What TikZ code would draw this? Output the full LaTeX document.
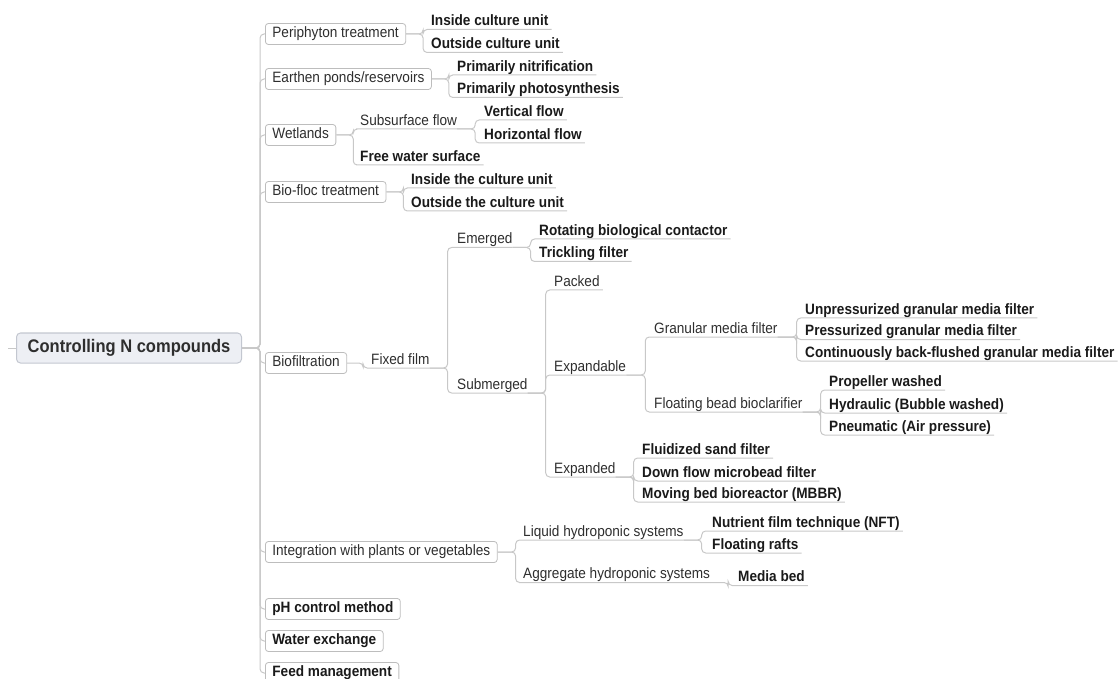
\documentclass[tikz,border=0pt]{standalone}
\usepackage{fontspec}
\setmainfont{Liberation Sans}[FakeStretch=0.907]
\usepackage{tikz}
\definecolor{linegray}{HTML}{C8C8C8}
\definecolor{boxgray}{HTML}{BDBDBD}
\definecolor{rootfill}{HTML}{EDEFF4}
\definecolor{rootline}{HTML}{C3C7D0}
\definecolor{txt}{HTML}{2E2E2E}
\definecolor{txtb}{HTML}{1A1A1A}

\tikzset{
  link/.style={draw=linegray, line width=1pt, rounded corners=4pt},
  rootbox/.style={draw=rootline, fill=rootfill, rounded corners=4pt, line width=1pt,
    anchor=west, inner xsep=11.2pt, inner ysep=0pt, minimum height=30pt,
    text=txt, font=\fontsize{18.2}{22}\selectfont\bfseries},
  topic/.style={draw=boxgray, fill=white, rounded corners=3pt, line width=0.8pt,
    anchor=west, inner xsep=7pt, inner ysep=0pt, minimum height=21pt,
    text height=10.8pt, text depth=3.2pt, text=txt, font=\fontsize{15}{18}\selectfont},
  leafbox/.style={topic, text=txtb, font=\fontsize{15}{18}\selectfont\bfseries},
  sub/.style={anchor=south west, inner xsep=0pt, inner ysep=0.5pt,
    text height=10.8pt, text depth=3.2pt, text=txt, font=\fontsize{15}{18}\selectfont},
  leaf/.style={sub, text=txtb, font=\fontsize{15}{18}\selectfont\bfseries},
}

\begin{document}
\begin{tikzpicture}[x=1pt,y=-1pt]
\useasboundingbox (0,0) rectangle (1120,679);

% root and main branches
\node[rootbox] (root) at (16,348) {Controlling N compounds};
\coordinate (stub) at (8,348);
\node[topic] (peri) at (265,34) {Periphyton treatment};
\node[topic] (pond) at (265,79) {Earthen ponds/reservoirs};
\node[topic] (wet) at (265,135) {Wetlands};
\node[topic] (floc) at (265,192) {Bio-floc treatment};
\node[topic] (bio) at (265,363) {Biofiltration};
\node[topic] (plants) at (265,552) {Integration with plants or vegetables};
\node[leafbox] (ph) at (265,609) {pH control method};
\node[leafbox] (water) at (265,641) {Water exchange};
\node[leafbox] (feed) at (265,673) {Feed management};

\draw[link] (stub) -- (root.west);
\draw[link] (root.east) -- ++(18,0) |- (peri.west);
\draw[link] (root.east) -- ++(18,0) |- (pond.west);
\draw[link] (root.east) -- ++(18,0) |- (wet.west);
\draw[link] (root.east) -- ++(18,0) |- (floc.west);
\draw[link] (root.east) -- ++(18,0) |- (bio.west);
\draw[link] (root.east) -- ++(18,0) |- (plants.west);
\draw[link] (root.east) -- ++(18,0) |- (ph.west);
\draw[link] (root.east) -- ++(18,0) |- (water.west);
\draw[link] (root.east) -- ++(18,0) |- (feed.west);

% periphyton
\node[leaf] (peri-in) at (431,29.5) {Inside culture unit};
\node[leaf] (peri-out) at (431,52.5) {Outside culture unit};
\draw[link] (peri.east) -- ++(17,0) |- (peri-in.south west) -- ([xshift=3pt]peri-in.south east);
\draw[link] (peri.east) -- ++(17,0) |- (peri-out.south west) -- ([xshift=3pt]peri-out.south east);

% ponds
\node[leaf] (pond-nit) at (457,75) {Primarily nitrification};
\node[leaf] (pond-pho) at (457,97.5) {Primarily photosynthesis};
\draw[link] (pond.east) -- ++(17,0) |- (pond-nit.south west) -- ([xshift=3pt]pond-nit.south east);
\draw[link] (pond.east) -- ++(17,0) |- (pond-pho.south west) -- ([xshift=3pt]pond-pho.south east);

% wetlands
\node[sub] (wet-sub) at (360,129) {Subsurface flow};
\node[leaf] (wet-free) at (360,165) {Free water surface};
\node[leaf] (wet-ver) at (484,120) {Vertical flow};
\node[leaf] (wet-hor) at (484,143) {Horizontal flow};
\draw[link] (wet.east) -- ++(17,0) |- (wet-sub.south west) -- (wet-sub.south east);
\draw[link] (wet.east) -- ++(17,0) |- (wet-free.south west) -- ([xshift=3pt]wet-free.south east);
\draw[link] (wet-sub.south east) -- ++(18,0) |- (wet-ver.south west) -- ([xshift=3pt]wet-ver.south east);
\draw[link] (wet-sub.south east) -- ++(18,0) |- (wet-hor.south west) -- ([xshift=3pt]wet-hor.south east);

% bio-floc
\node[leaf] (floc-in) at (411,188) {Inside the culture unit};
\node[leaf] (floc-out) at (411,211) {Outside the culture unit};
\draw[link] (floc.east) -- ++(17,0) |- (floc-in.south west) -- ([xshift=3pt]floc-in.south east);
\draw[link] (floc.east) -- ++(17,0) |- (floc-out.south west) -- ([xshift=3pt]floc-out.south east);

% biofiltration
\node[sub] (fixed) at (371,368) {Fixed film};
\node[sub] (emerged) at (457,247.5) {Emerged};
\node[sub] (submerged) at (457,393) {Submerged};
\node[leaf] (rbc) at (539,239) {Rotating biological contactor};
\node[leaf] (trick) at (539,261.5) {Trickling filter};
\node[sub] (packed) at (554,290) {Packed};
\node[sub] (expandable) at (554,375) {Expandable};
\node[sub] (expanded) at (554,477) {Expanded};
\node[sub] (granular) at (654,337) {Granular media filter};
\node[sub] (floating) at (654,412) {Floating bead bioclarifier};
\node[leaf] (gran-unp) at (805,318) {Unpressurized granular media filter};
\node[leaf] (gran-pre) at (805,339.5) {Pressurized granular media filter};
\node[leaf] (gran-con) at (805,361) {Continuously back-flushed granular media filter};
\node[leaf] (flo-pro) at (829,390) {Propeller washed};
\node[leaf] (flo-hyd) at (829,413) {Hydraulic (Bubble washed)};
\node[leaf] (flo-pne) at (829,435) {Pneumatic (Air pressure)};
\node[leaf] (fluid) at (642,458) {Fluidized sand filter};
\node[leaf] (micro) at (642,481) {Down flow microbead filter};
\node[leaf] (mbbr) at (642,502) {Moving bed bioreactor (MBBR)};

\draw[link] (bio.east) -- ++(16,0) |- (fixed.south west) -- (fixed.south east);
\draw[link] (fixed.south east) -- ++(18,0) |- (emerged.south west) -- (emerged.south east);
\draw[link] (fixed.south east) -- ++(18,0) |- (submerged.south west) -- (submerged.south east);
\draw[link] (emerged.south east) -- ++(18,0) |- (rbc.south west) -- ([xshift=3pt]rbc.south east);
\draw[link] (emerged.south east) -- ++(18,0) |- (trick.south west) -- ([xshift=3pt]trick.south east);
\draw[link] (submerged.south east) -- ++(18,0) |- (packed.south west) -- ([xshift=3pt]packed.south east);
\draw[link] (submerged.south east) -- ++(18,0) |- (expandable.south west) -- (expandable.south east);
\draw[link] (submerged.south east) -- ++(18,0) |- (expanded.south west) -- (expanded.south east);
\draw[link] (expandable.south east) -- ++(19,0) |- (granular.south west) -- (granular.south east);
\draw[link] (expandable.south east) -- ++(19,0) |- (floating.south west) -- (floating.south east);
\draw[link] (granular.south east) -- ++(19,0) |- (gran-unp.south west) -- ([xshift=3pt]gran-unp.south east);
\draw[link] (granular.south east) -- ++(19,0) |- (gran-pre.south west) -- ([xshift=3pt]gran-pre.south east);
\draw[link] (granular.south east) -- ++(19,0) |- (gran-con.south west) -- ([xshift=3pt]gran-con.south east);
\draw[link] (floating.south east) -- ++(18,0) |- (flo-pro.south west) -- ([xshift=3pt]flo-pro.south east);
\draw[link] (floating.south east) -- ++(18,0) |- (flo-hyd.south west) -- ([xshift=3pt]flo-hyd.south east);
\draw[link] (floating.south east) -- ++(18,0) |- (flo-pne.south west) -- ([xshift=3pt]flo-pne.south east);
\draw[link] (expanded.south east) -- ++(18,0) |- (fluid.south west) -- ([xshift=3pt]fluid.south east);
\draw[link] (expanded.south east) -- ++(18,0) |- (micro.south west) -- ([xshift=3pt]micro.south east);
\draw[link] (expanded.south east) -- ++(18,0) |- (mbbr.south west) -- ([xshift=3pt]mbbr.south east);

% plants
\node[sub] (liquid) at (523,540) {Liquid hydroponic systems};
\node[sub] (aggregate) at (523,582.5) {Aggregate hydroponic systems};
\node[leaf] (nft) at (712,531) {Nutrient film technique (NFT)};
\node[leaf] (rafts) at (712,553) {Floating rafts};
\node[leaf] (mediabed) at (738,585.5) {Media bed};
\draw[link] (plants.east) -- ++(18,0) |- (liquid.south west) -- (liquid.south east);
\draw[link] (plants.east) -- ++(18,0) |- (aggregate.south west) -- (aggregate.south east);
\draw[link] (liquid.south east) -- ++(18,0) |- (nft.south west) -- ([xshift=3pt]nft.south east);
\draw[link] (liquid.south east) -- ++(18,0) |- (rafts.south west) -- ([xshift=3pt]rafts.south east);
\draw[link] (aggregate.south east) -- ++(18,0) |- (mediabed.south west) -- ([xshift=3pt]mediabed.south east);
\end{tikzpicture}
\end{document}
